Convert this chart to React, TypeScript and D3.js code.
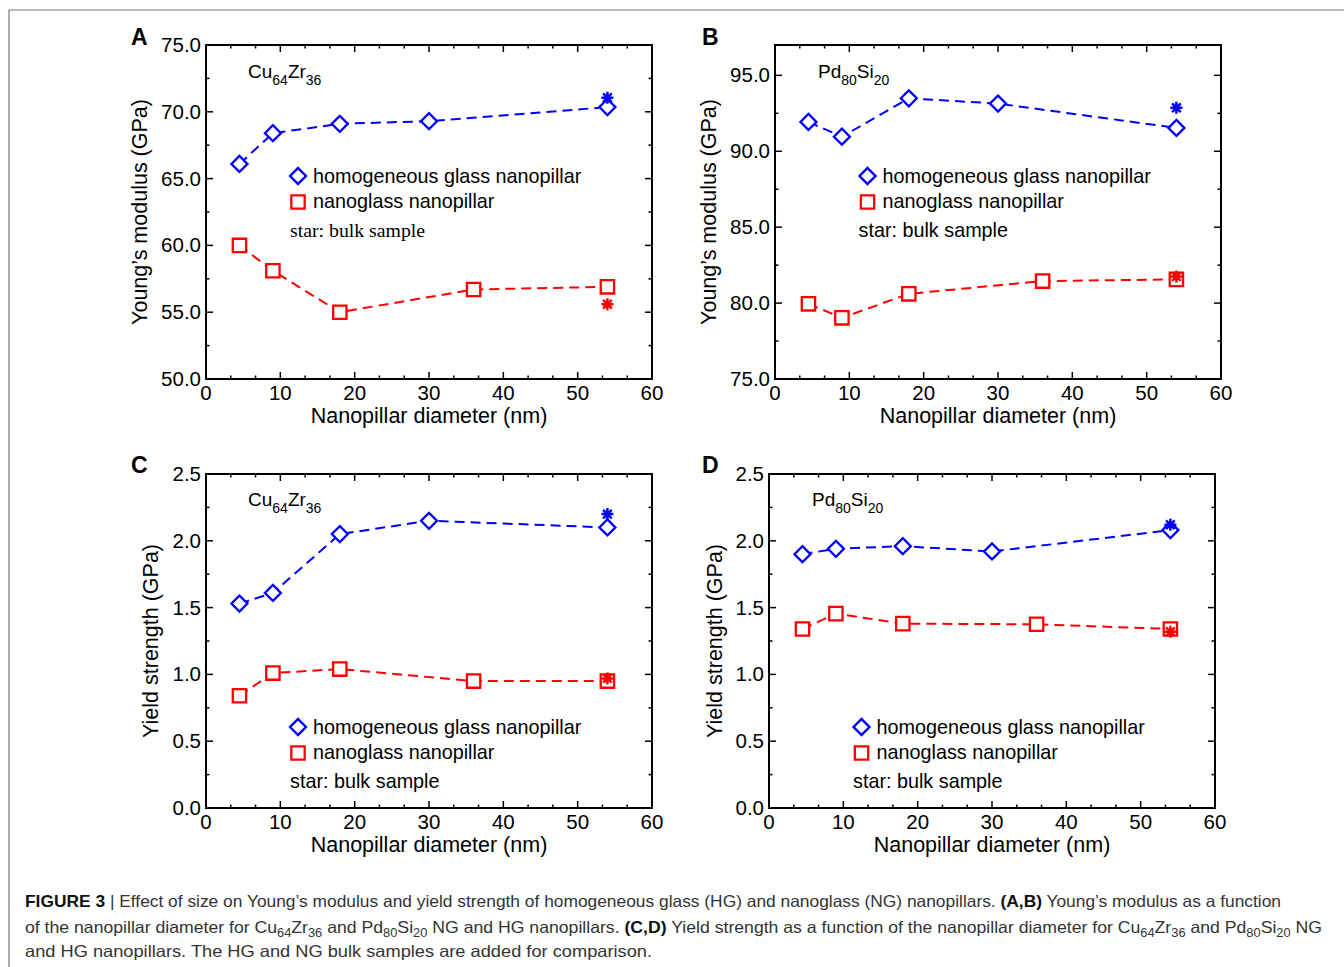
import React from "react";
import * as d3 from "d3";

// ---------------- data ----------------
const hgDiameters = [4.5, 9, 18, 30, 54];
const ngDiameters = [4.5, 9, 18, 36, 54];
const bulkDiameter = 54;

const cuModulusHG = [66.1, 68.4, 69.1, 69.3, 70.35];
const cuModulusNG = [60.0, 58.1, 55.0, 56.7, 56.9];
const cuModulusBulk = [71.05, 55.6]; // HG bulk, NG bulk

const pdModulusHG = [91.93, 90.96, 93.49, 93.14, 91.54];
const pdModulusNG = [79.95, 79.03, 80.61, 81.45, 81.56];
const pdModulusBulk = [92.87, 81.75];

const cuYieldHG = [1.53, 1.61, 2.05, 2.15, 2.1];
const cuYieldNG = [0.84, 1.01, 1.04, 0.95, 0.95];
const cuYieldBulk = [2.2, 0.97];

const pdYieldHG = [1.9, 1.94, 1.96, 1.92, 2.08];
const pdYieldNG = [1.34, 1.455, 1.38, 1.375, 1.34];
const pdYieldBulk = [2.12, 1.32];

const xTicks = [0, 10, 20, 30, 40, 50, 60];
const cuModulusTicks = [50, 55, 60, 65, 70, 75];
const pdModulusTicks = [75, 80, 85, 90, 95];
const yieldTicks = [0, 0.5, 1.0, 1.5, 2.0, 2.5];

const legendLabels = ["homogeneous glass nanopillar", "nanoglass nanopillar"];
const starLabel = "star: bulk sample";
const xTitle = "Nanopillar diameter (nm)";
const modulusTitle = "Young\u2019s modulus (GPa)";
const yieldTitle = "Yield strength (GPa)";

const BLUE = "#0000ff";
const RED = "#ff0000";
const SANS = "'Liberation Sans', Arial, Helvetica, sans-serif";
const SERIF = "'Liberation Serif', 'Times New Roman', serif";

type Compound = [string, string, string, string];

interface PanelProps {
  letter: string;
  box: { l: number; t: number; r: number; b: number };
  yDomain: [number, number];
  yTicks: number[];
  yMinorStep: number;
  yTitle: string;
  yTitleX: number;
  compound: Compound;
  compoundPos: [number, number];
  hg: number[];
  ng: number[];
  bulk: number[];
  legendPos: [number, number];
  starPos: [number, number];
  starSerif: boolean;
  letterPos: [number, number];
}

const diamondPath = d3.symbol().type(d3.symbolSquare).size(128)()!;
const squarePath = d3.symbol().type(d3.symbolSquare).size(178)()!;
const asteriskPath = (() => {
  const r = 6;
  const d = r * 0.72;
  return `M${-r},0L${r},0M0,${-r}L0,${r}M${-d},${-d}L${d},${d}M${-d},${d}L${d},${-d}`;
})();

function Diamond({ x, y, c }: { x: number; y: number; c: string }) {
  return (
    <path
      d={diamondPath}
      transform={`translate(${x},${y}) rotate(45)`}
      fill="white"
      stroke={c}
      strokeWidth={2.3}
    />
  );
}
function Square({ x, y, c }: { x: number; y: number; c: string }) {
  return (
    <path d={squarePath} transform={`translate(${x},${y})`} fill="white" stroke={c} strokeWidth={2.3} />
  );
}
function Star({ x, y, c }: { x: number; y: number; c: string }) {
  return <path d={asteriskPath} transform={`translate(${x},${y})`} fill="none" stroke={c} strokeWidth={2.5} />;
}

function Panel(p: PanelProps) {
  const { l, t, r, b } = p.box;
  const x = d3.scaleLinear().domain([0, 60]).range([l, r]);
  const y = d3.scaleLinear().domain(p.yDomain).range([b, t]);
  const line = d3
    .line<[number, number]>()
    .x((d) => x(d[0]))
    .y((d) => y(d[1]));
  const hgPts: [number, number][] = hgDiameters.map((d, i) => [d, p.hg[i]]);
  const ngPts: [number, number][] = ngDiameters.map((d, i) => [d, p.ng[i]]);

  const xMinor = d3.range(0, 60.001, 10 / 3).filter((v) => Math.abs(v / 10 - Math.round(v / 10)) > 0.01);
  const yMinor = d3
    .range(p.yDomain[0], p.yDomain[1] + 1e-6, p.yMinorStep)
    .filter((v) => !p.yTicks.some((tk) => Math.abs(tk - v) < 1e-6));
  const MAJ = 7;
  const MIN = 3.5;
  const fmt = d3.format(".1f");
  const [c1, s1, c2, s2] = p.compound;

  return (
    <g>
      <text x={p.letterPos[0]} y={p.letterPos[1]} fontFamily={SANS} fontWeight="bold" fontSize={23}>
        {p.letter}
      </text>
      <g stroke="black" strokeWidth={1.5}>
        {xTicks.map((v) => (
          <g key={"xt" + v}>
            <line x1={x(v)} x2={x(v)} y1={b} y2={b - MAJ} />
            <line x1={x(v)} x2={x(v)} y1={t} y2={t + MAJ} />
          </g>
        ))}
        {xMinor.map((v) => (
          <g key={"xm" + v}>
            <line x1={x(v)} x2={x(v)} y1={b} y2={b - MIN} />
            <line x1={x(v)} x2={x(v)} y1={t} y2={t + MIN} />
          </g>
        ))}
        {p.yTicks.map((v) => (
          <g key={"yt" + v}>
            <line x1={l} x2={l + MAJ} y1={y(v)} y2={y(v)} />
            <line x1={r} x2={r - MAJ} y1={y(v)} y2={y(v)} />
          </g>
        ))}
        {yMinor.map((v) => (
          <g key={"ym" + v}>
            <line x1={l} x2={l + MIN} y1={y(v)} y2={y(v)} />
            <line x1={r} x2={r - MIN} y1={y(v)} y2={y(v)} />
          </g>
        ))}
      </g>
      <rect x={l} y={t} width={r - l} height={b - t} fill="none" stroke="black" strokeWidth={2} />
      <g fontFamily={SANS} fontSize={20.5} fill="black">
        {xTicks.map((v) => (
          <text key={"xl" + v} x={x(v)} y={b + 21} textAnchor="middle">
            {v}
          </text>
        ))}
        {p.yTicks.map((v) => (
          <text key={"yl" + v} x={l - 5} y={y(v) + 7} textAnchor="end">
            {fmt(v)}
          </text>
        ))}
      </g>
      <text x={(l + r) / 2} y={b + 44} textAnchor="middle" fontFamily={SANS} fontSize={21.5}>
        {xTitle}
      </text>
      <text
        transform={`translate(${p.yTitleX},${(t + b) / 2}) rotate(-90)`}
        textAnchor="middle"
        fontFamily={SANS}
        fontSize={21.5}
      >
        {p.yTitle}
      </text>
      <text x={p.compoundPos[0]} y={p.compoundPos[1]} fontFamily={SANS} fontSize={19}>
        {c1}
        <tspan fontSize={14} dy={6.5}>
          {s1}
        </tspan>
        <tspan fontSize={19} dy={-6.5}>
          {c2}
        </tspan>
        <tspan fontSize={14} dy={6.5}>
          {s2}
        </tspan>
      </text>
      <path d={line(hgPts)!} fill="none" stroke={BLUE} strokeWidth={2} strokeDasharray="10,6" />
      <path d={line(ngPts)!} fill="none" stroke={RED} strokeWidth={2} strokeDasharray="10,6" />
      {hgPts.map((d, i) => (
        <Diamond key={"hg" + i} x={x(d[0])} y={y(d[1])} c={BLUE} />
      ))}
      {ngPts.map((d, i) => (
        <Square key={"ng" + i} x={x(d[0])} y={y(d[1])} c={RED} />
      ))}
      <Star x={x(bulkDiameter)} y={y(p.bulk[0])} c={BLUE} />
      <Star x={x(bulkDiameter)} y={y(p.bulk[1])} c={RED} />
      <Diamond x={p.legendPos[0]} y={p.legendPos[1]} c={BLUE} />
      <text x={p.legendPos[0] + 15} y={p.legendPos[1] + 6.5} fontFamily={SANS} fontSize={19.8}>
        {legendLabels[0]}
      </text>
      <Square x={p.legendPos[0]} y={p.legendPos[1] + 26} c={RED} />
      <text x={p.legendPos[0] + 15} y={p.legendPos[1] + 32} fontFamily={SANS} fontSize={19.8}>
        {legendLabels[1]}
      </text>
      <text x={p.starPos[0]} y={p.starPos[1]} fontFamily={p.starSerif ? SERIF : SANS} fontSize={19.8}>
        {starLabel}
      </text>
    </g>
  );
}

function Caption() {
  const cap = { fontFamily: "'Liberation Sans Narrow', 'Liberation Sans', Arial, sans-serif", fontSize: 16.5 };
  return (
    <g fill="#333">
      <text x={25} y={907} {...cap} textLength={1256} lengthAdjust="spacingAndGlyphs">
        <tspan fontWeight="bold" fill="#111">
          FIGURE 3
        </tspan>
        <tspan> | Effect of size on Young’s modulus and yield strength of homogeneous glass (HG) and nanoglass (NG) nanopillars. </tspan>
        <tspan fontWeight="bold" fill="#111">
          (A,B)
        </tspan>
        <tspan> Young’s modulus as a function</tspan>
      </text>
      <text x={25} y={933} {...cap} textLength={1297} lengthAdjust="spacingAndGlyphs">
        <tspan>of the nanopillar diameter for Cu</tspan>
        <tspan fontSize={12} dy={4}>64</tspan>
        <tspan dy={-4}>Zr</tspan>
        <tspan fontSize={12} dy={4}>36</tspan>
        <tspan dy={-4}> and Pd</tspan>
        <tspan fontSize={12} dy={4}>80</tspan>
        <tspan dy={-4}>Si</tspan>
        <tspan fontSize={12} dy={4}>20</tspan>
        <tspan dy={-4}> NG and HG nanopillars. </tspan>
        <tspan fontWeight="bold" fill="#111">
          (C,D)
        </tspan>
        <tspan> Yield strength as a function of the nanopillar diameter for Cu</tspan>
        <tspan fontSize={12} dy={4}>64</tspan>
        <tspan dy={-4}>Zr</tspan>
        <tspan fontSize={12} dy={4}>36</tspan>
        <tspan dy={-4}> and Pd</tspan>
        <tspan fontSize={12} dy={4}>80</tspan>
        <tspan dy={-4}>Si</tspan>
        <tspan fontSize={12} dy={4}>20</tspan>
        <tspan dy={-4}> NG</tspan>
      </text>
      <text x={25} y={957} {...cap} textLength={627} lengthAdjust="spacingAndGlyphs">
        and HG nanopillars. The HG and NG bulk samples are added for comparison.
      </text>
    </g>
  );
}

export default function App() {
  return (
    <svg width={1344} height={967} style={{ position: "absolute", left: 0, top: 0, background: "white" }}>
      <rect x={0} y={0} width={1344} height={967} fill="white" />
      <line x1={9} y1={10} x2={1344} y2={10} stroke="#777" strokeWidth={1.2} />
      <line x1={9} y1={10} x2={9} y2={967} stroke="#777" strokeWidth={1.2} />
      <Panel
        letter="A"
        box={{ l: 206, t: 45, r: 652, b: 379 }}
        yDomain={[50, 75]}
        yTicks={cuModulusTicks}
        yMinorStep={2.5}
        yTitle={modulusTitle}
        yTitleX={147}
        compound={["Cu", "64", "Zr", "36"]}
        compoundPos={[248, 78]}
        hg={cuModulusHG}
        ng={cuModulusNG}
        bulk={cuModulusBulk}
        legendPos={[298, 176]}
        starPos={[290, 237]}
        starSerif={true}
        letterPos={[131, 45]}
      />
      <Panel
        letter="B"
        box={{ l: 775, t: 45, r: 1221, b: 379 }}
        yDomain={[75, 97]}
        yTicks={pdModulusTicks}
        yMinorStep={2.5}
        yTitle={modulusTitle}
        yTitleX={716}
        compound={["Pd", "80", "Si", "20"]}
        compoundPos={[818, 78]}
        hg={pdModulusHG}
        ng={pdModulusNG}
        bulk={pdModulusBulk}
        legendPos={[867.5, 176]}
        starPos={[858.5, 237]}
        starSerif={false}
        letterPos={[702, 45]}
      />
      <Panel
        letter="C"
        box={{ l: 206, t: 474, r: 652, b: 808 }}
        yDomain={[0, 2.5]}
        yTicks={yieldTicks}
        yMinorStep={0.25}
        yTitle={yieldTitle}
        yTitleX={158}
        compound={["Cu", "64", "Zr", "36"]}
        compoundPos={[248, 506]}
        hg={cuYieldHG}
        ng={cuYieldNG}
        bulk={cuYieldBulk}
        legendPos={[298, 727]}
        starPos={[290, 788]}
        starSerif={false}
        letterPos={[131, 473]}
      />
      <Panel
        letter="D"
        box={{ l: 769, t: 474, r: 1215, b: 808 }}
        yDomain={[0, 2.5]}
        yTicks={yieldTicks}
        yMinorStep={0.25}
        yTitle={yieldTitle}
        yTitleX={722}
        compound={["Pd", "80", "Si", "20"]}
        compoundPos={[812, 506]}
        hg={pdYieldHG}
        ng={pdYieldNG}
        bulk={pdYieldBulk}
        legendPos={[861.5, 727]}
        starPos={[853, 788]}
        starSerif={false}
        letterPos={[702, 473]}
      />
      <Caption />
    </svg>
  );
}
